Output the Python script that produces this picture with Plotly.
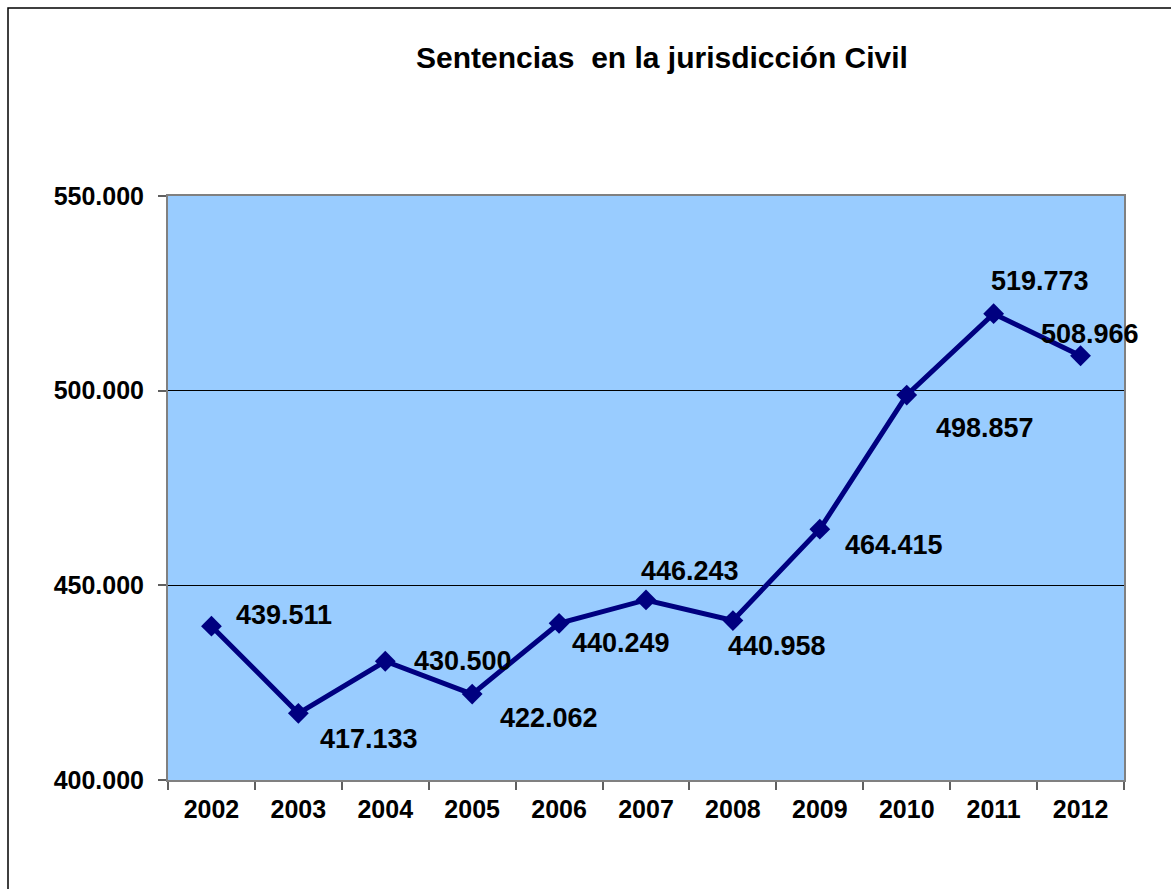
import plotly.graph_objects as go

years = ["2002", "2003", "2004", "2005", "2006", "2007", "2008", "2009", "2010", "2011", "2012"]
sentencias = [439511, 417133, 430500, 422062, 440249, 446243, 440958, 464415, 498857, 519773, 508966]
# label offsets in pixels (right, up) relative to each point
label_dx = [73, 71, 78, 77, 62, 44, 44, 74, 78, 46, 9]
label_dy = [11, -26, 0, -24, -20, 29, -25, -16, -33, 33, 22]
y_ticks = [400000, 450000, 500000, 550000]

W, H = 1171, 889
L, R, T, B = 168, 47, 196, 109

fig = go.Figure()
fig.add_trace(go.Scatter(
    x=years, y=sentencias, mode="lines+markers",
    line=dict(color="#000080", width=5),
    marker=dict(symbol="diamond", size=16, color="#000080"),
    showlegend=False, hoverinfo="skip",
))

def fmt(v):
    return f"{v:,}".replace(",", ".")

for i, (v, dx, dy) in enumerate(zip(sentencias, label_dx, label_dy)):
    fig.add_annotation(
        x=i, y=v, xref="x", yref="y", text="<b>" + fmt(v) + "</b>", showarrow=False,
        xshift=dx, yshift=dy,
        font=dict(family="Arial, Liberation Sans", size=27, color="black"),
    )

pw = W - L - R
ph = H - T - B
# outer chart border
fig.add_shape(type="rect", xref="paper", yref="paper",
              x0=(8 - L) / pw, x1=(W + 20 - L) / pw,
              y0=(H - B - (H + 20)) / ph, y1=(H - B - 8) / ph,
              line=dict(color="black", width=1.5), fillcolor="rgba(0,0,0,0)", layer="below")

fig.update_layout(
    width=W, height=H,
    margin=dict(l=L, r=R, t=T, b=B),
    paper_bgcolor="white", plot_bgcolor="#99CCFF",
    separators=",.",
    font=dict(family="Arial, Liberation Sans", color="black"),
    title=dict(text="<b>Sentencias  en la jurisdicción Civil</b>",
               x=662 / W, xanchor="center", y=1 - 57 / H, yanchor="middle",
               font=dict(size=30, family="Arial, Liberation Sans", color="black")),
    xaxis=dict(type="category", tickson="boundaries", ticks="outside", ticklen=8,
               tickcolor="#606060", tickwidth=1.5, showline=True, linecolor="#808080",
               linewidth=2, mirror=True, showgrid=False,
               tickfont=dict(size=25, family="Arial, Liberation Sans", weight="bold"),
               ticklabelstandoff=6, range=[-0.5, 10.5]),
    yaxis=dict(range=[400000, 550000], tickvals=y_ticks, tickformat=",d",
               ticks="outside", ticklen=8, tickcolor="#606060", tickwidth=1.5,
               showline=True, linecolor="#808080", linewidth=2, mirror=True,
               showgrid=True, gridcolor="black", gridwidth=1, zeroline=False,
               tickfont=dict(size=25, family="Arial, Liberation Sans", weight="bold"),
               ticklabelstandoff=9),
)

fig.write_html("out.html", config={"displayModeBar": False},
               post_script="document.body.style.margin='0';document.body.style.overflow='hidden';")
